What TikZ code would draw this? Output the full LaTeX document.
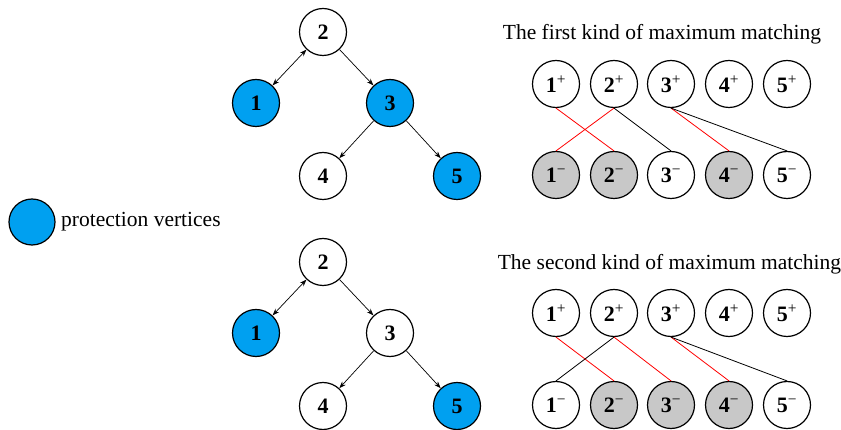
\documentclass[tikz,border=0pt]{standalone}
\usepackage{fontspec}
\setmainfont{Liberation Serif}
\usetikzlibrary{arrows.meta}
\definecolor{protblue}{RGB}{0,160,240}
\definecolor{matchgray}{RGB}{200,200,200}
\begin{document}
\begin{tikzpicture}[x=1pt,y=-1pt,
  vtx/.style={circle,draw=black,line width=1.2pt,minimum size=47pt,inner sep=0pt,
    font=\fontsize{22}{22}\selectfont\bfseries},
  prot/.style={vtx,fill=protblue},
  plain/.style={vtx,fill=white},
  gvtx/.style={vtx,fill=matchgray},
  arr/.style={-{Stealth[length=7pt,width=5pt]},line width=0.7pt},
  darr/.style={{Stealth[length=7pt,width=5pt]}-{Stealth[length=7pt,width=5pt]},line width=0.7pt},
  redl/.style={draw=red,line width=0.8pt},
  blkl/.style={draw=black,line width=0.8pt},
  titletext/.style={font=\fontsize{21.5}{22}\selectfont,anchor=base,inner sep=0pt}]
\useasboundingbox (0,0) rectangle (841,430);

% ---- tree 1
\node[plain] (a2) at (323,32) {2};
\node[prot]  (a1) at (256,103) {1};
\node[prot]  (a3) at (390,103) {3};
\node[plain] (a4) at (323,176) {4};
\node[prot]  (a5) at (457,176) {5};
\draw[darr] (a2) -- (a1);
\draw[arr] (a2) -- (a3);
\draw[arr] (a3) -- (a4);
\draw[arr] (a3) -- (a5);

% ---- tree 2
\node[plain] (b2) at (323,262) {2};
\node[prot]  (b1) at (256,333) {1};
\node[plain] (b3) at (390,333) {3};
\node[plain] (b4) at (323,406) {4};
\node[prot]  (b5) at (457,406) {5};
\draw[darr] (b2) -- (b1);
\draw[arr] (b2) -- (b3);
\draw[arr] (b3) -- (b4);
\draw[arr] (b3) -- (b5);

% ---- legend
\node[prot,minimum size=46pt] (leg) at (32,222) {};
\node[anchor=west,inner sep=0pt,font=\fontsize{21.5}{22}\selectfont] (legt) at (61,222) {protection vertices};

% ---- first matching
\node[titletext] (t1) at (662,40) {The first kind of maximum matching};
\foreach \i/\x in {1/556,2/614,3/671,4/729,5/787}{
  \node[plain] (ap\i) at (\x,84) {\i\textsuperscript{\normalfont +}};
}
\foreach \i/\x/\s in {1/556/gvtx,2/614/gvtx,3/671/plain,4/729/gvtx,5/787/plain}{
  \node[\s] (am\i) at (\x,175) {\i\textsuperscript{\normalfont −}};
}
\draw[redl] (ap1.south) -- (am2.north);
\draw[redl] (ap2.south) -- (am1.north);
\draw[blkl] (ap2.south) -- (am3.north);
\draw[redl] (ap3.south) -- (am4.north);
\draw[blkl] (ap3.south) -- (am5.north);

% ---- second matching
\node[titletext] (t2) at (669.5,270) {The second kind of maximum matching};
\foreach \i/\x in {1/556,2/614,3/671,4/729,5/787}{
  \node[plain] (bp\i) at (\x,313) {\i\textsuperscript{\normalfont +}};
}
\foreach \i/\x/\s in {1/556/plain,2/614/gvtx,3/671/gvtx,4/729/gvtx,5/787/plain}{
  \node[\s] (bm\i) at (\x,405) {\i\textsuperscript{\normalfont −}};
}
\draw[redl] (bp1.south) -- (bm2.north);
\draw[blkl] (bp2.south) -- (bm1.north);
\draw[redl] (bp2.south) -- (bm3.north);
\draw[redl] (bp3.south) -- (bm4.north);
\draw[blkl] (bp3.south) -- (bm5.north);
\end{tikzpicture}
\end{document}
